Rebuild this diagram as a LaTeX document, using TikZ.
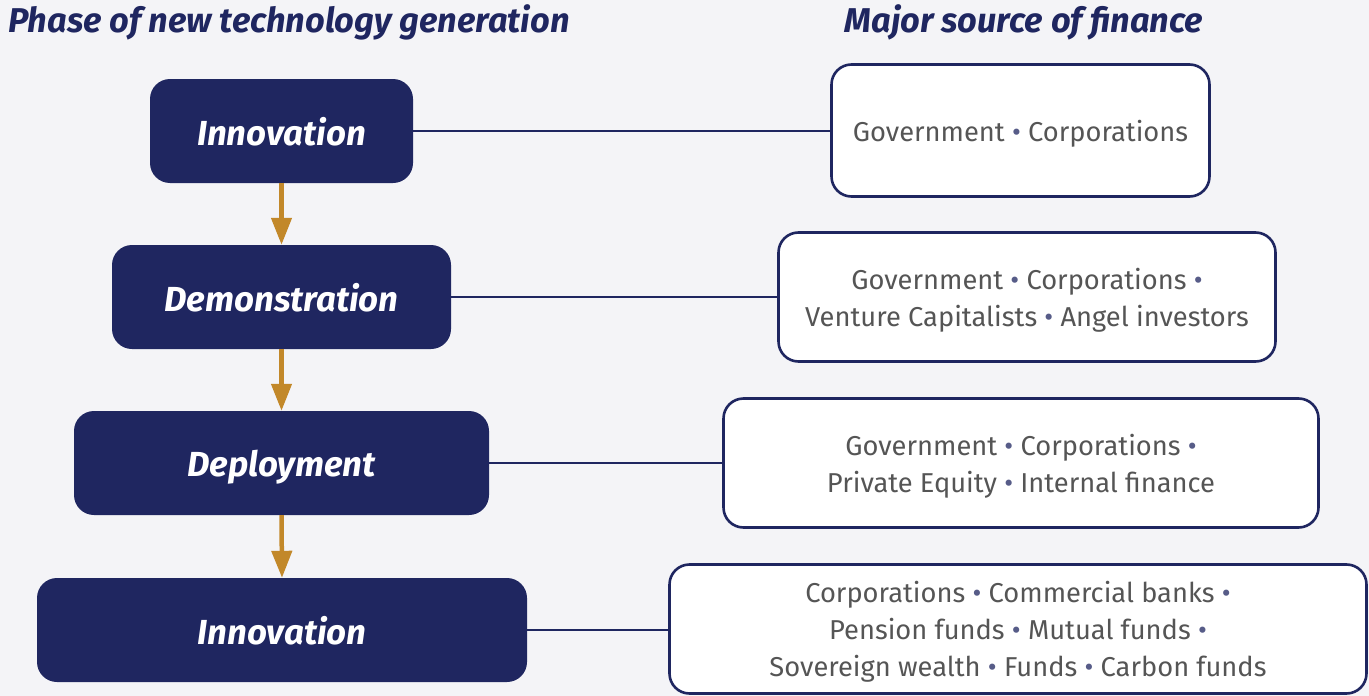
\documentclass[tikz,border=0pt]{standalone}
\usepackage{fontspec}
\setmainfont{Fira Sans}
\usetikzlibrary{arrows.meta}
\definecolor{navy}{HTML}{1F2660}
\definecolor{gold}{HTML}{C2882A}
\definecolor{bg}{HTML}{F4F4F7}
\definecolor{txtgray}{HTML}{555555}
\newcommand{\bul}{ {\color{navy!75}\textbullet} }
\begin{document}
\begin{tikzpicture}[x=1pt,y=-1pt,
  phasebox/.style={fill=navy,draw=none,rounded corners=20pt,minimum height=104pt,
    text=white,font=\fontsize{34.8}{40}\selectfont\bfseries\itshape,inner sep=0pt,text depth=0pt},
  srcbox/.style={fill=white,draw=navy,line width=2.6pt,rounded corners=20pt,minimum height=129pt,
    text=txtgray,font=\fontsize{27.3}{37}\selectfont,align=center,inner sep=0pt,text depth=0pt},
  head/.style={text=navy,font=\fontsize{34.4}{40}\selectfont\bfseries\itshape,inner sep=0pt},
  link/.style={draw=navy,line width=2pt},
  flow/.style={draw=gold,line width=4.5pt,-{Triangle[width=20pt,length=27pt]}}]
\fill[bg] (0,0) rectangle (1369,696);
\useasboundingbox (0,0) rectangle (1369,696);
\node[head,anchor=west] (h1) at (8,22) {Phase of new technology generation};
\node[head] (h2) at (1024,22) {Major source of finance};
\node[phasebox,minimum width=263pt] (l1) at (281.5,131) {Innovation};
\node[phasebox,minimum width=339pt] (l2) at (281.5,297) {Demonstration};
\node[phasebox,minimum width=415pt] (l3) at (281.5,463) {Deployment};
\node[phasebox,minimum width=490pt] (l4) at (282,630) {Innovation};
\node[srcbox,minimum width=378pt,minimum height=132pt] (r1) at (1020.5,130.5) {Government\bul Corporations};
\node[srcbox,minimum width=497pt] (r2) at (1027,297) {Government\bul Corporations\bul\\Venture Capitalists\bul Angel investors};
\node[srcbox,minimum width=595pt] (r3) at (1021,463) {Government\bul Corporations\bul\\Private Equity\bul Internal finance};
\node[srcbox,minimum width=697pt] (r4) at (1018,629) {Corporations\bul Commercial banks\bul\\Pension funds\bul Mutual funds\bul\\Sovereign wealth\bul Funds\bul Carbon funds};
\foreach \a/\b in {l1/r1,l2/r2,l3/r3,l4/r4}{
  \draw[link] (\a.east) -- (\a.east -| \b.west);
}
\foreach \a/\b in {l1/l2,l2/l3,l3/l4}{
  \draw[flow] (\a.south) -- (\b.north);
}
\end{tikzpicture}
\end{document}
